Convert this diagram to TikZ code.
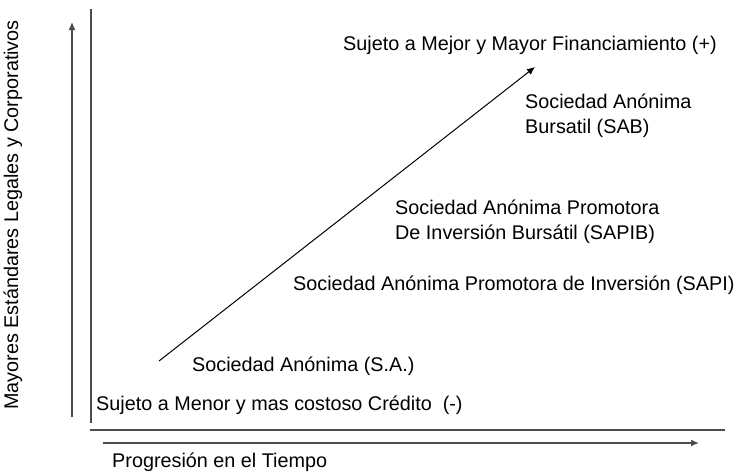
\documentclass[tikz,border=0pt]{standalone}
\usepackage{fontspec}
\setmainfont{Liberation Sans}
\usetikzlibrary{positioning}
\usetikzlibrary{arrows.meta}

\begin{document}
\begin{tikzpicture}[x=1pt,y=-1pt,>={Latex[length=8pt,width=7pt]},
    lbl/.style={inner sep=0pt,anchor=west,align=left,font=\fontsize{19.8}{24.5}\selectfont},
    axis/.style={draw=black!70,line width=1.3pt},
    gauge/.style={->,draw=black!70,line width=1.4pt},
    trend/.style={->,line width=1pt}]
  \useasboundingbox (0,0) rectangle (737,474);

  % axes
  \coordinate (ytop) at (91,9);
  \coordinate (ybot) at (91,423);
  \coordinate (xleft) at (90,430);
  \coordinate (xright) at (725,430);
  \draw[axis] (ytop) -- (ybot);
  \draw[axis] (xleft) -- (xright);

  % labels
  \node (best) [lbl] at (343,45) {Sujeto a Mejor y Mayor Financiamiento (+)};
  \node (sab) [lbl] at (525,116) {Sociedad Anónima\\Bursatil (SAB)};
  \node (sapib) [lbl] at (395,222) {Sociedad Anónima Promotora\\De Inversión Bursátil (SAPIB)};
  \node (sapi) [lbl] at (293,285) {Sociedad Anónima Promotora de Inversión (SAPI)};
  \node (sa) [lbl] at (192,366) {Sociedad Anónima (S.A.)};
  \node (worst) [lbl] at (96,405) {Sujeto a Menor y mas costoso Crédito\ \ (-)};
  \node (time) [lbl] at (112,462) {Progresión en el Tiempo};
  \node (std) [lbl,anchor=center,rotate=90] at (13,215) {Mayores Estándares Legales y Corporativos};

  % arrows
  \coordinate (up0) at (72,417);
  \coordinate (up1) at (72,22);
  \coordinate (rt0) at (103,443);
  \coordinate (rt1) at (699,443);
  \coordinate (d0) at (159,361);
  \coordinate (d1) at (535,67);
  \draw[gauge] (up0) -- (up1);
  \draw[gauge] (rt0) -- (rt1);
  \draw[trend] (d0) -- (d1);
\end{tikzpicture}
\end{document}
